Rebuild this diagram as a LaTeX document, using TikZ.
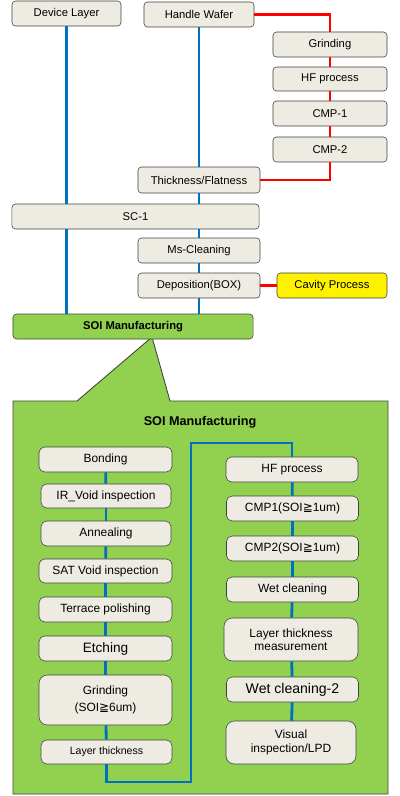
\documentclass[tikz,border=0pt]{standalone}
\usepackage{fontspec}
\setmainfont{Liberation Sans}
\newfontfamily\symfont{DejaVu Sans}
\definecolor{beige}{RGB}{238,236,226}
\definecolor{vert}{RGB}{146,208,80}
\definecolor{bleu}{RGB}{0,112,192}
\definecolor{bord}{RGB}{64,64,64}
\newcommand{\supeg}{{\symfont ≧}}
\begin{document}
\begin{tikzpicture}[x=0.025cm,y=-0.025cm]
		\tikzstyle{etape}=[draw=bord, fill=beige, rounded corners=2.5pt, inner sep=0pt, minimum height=0.625cm, font=\fontsize{8}{9.6}\selectfont]
		\tikzstyle{etape_b}=[etape, rounded corners=4pt, minimum width=3.325cm, align=center, font=\fontsize{8.5}{10.5}\selectfont]
		\tikzstyle{lien}=[bleu, line width=2pt]
		\tikzstyle{lien_rouge}=[red, line width=2pt]
		\useasboundingbox (0,0) rectangle (400,796);
		% cadre du bas avec la pointe
		\draw[fill=vert, draw=bord, line width=0.6pt] (13,401) -- (77,401) -- (152,337) -- (170,401) -- (388,401) -- (388,794) -- (13,794) -- cycle;
		% haut
		\node[etape, minimum width=2.725cm] (device) at (66.5,13.5) {Device Layer};
		\node[etape, minimum width=2.75cm] (handle) at (199,14.5) {Handle Wafer};
		\node[etape, minimum width=2.85cm] (grind) at (330,44.5) {Grinding};
		\node[etape, minimum width=2.85cm, minimum height=0.6cm] (hf) at (330,79) {HF process};
		\node[etape, minimum width=2.85cm] (cmpa) at (330,113.5) {CMP-1};
		\node[etape, minimum width=2.85cm] (cmpb) at (330,149.5) {CMP-2};
		\node[etape, minimum width=3.05cm, minimum height=0.65cm] (flat) at (199,180) {Thickness/Flatness};
		\node[etape, minimum width=6.175cm] (sc) at (135.5,216.5) {SC-1};
		\node[etape, minimum width=3.05cm] (ms) at (199,250.5) {Ms-Cleaning};
		\node[etape, minimum width=3.05cm] (dep) at (199,285.5) {Deposition(BOX)};
		\node[etape, fill=yellow, minimum width=2.75cm] (cavity) at (332,285.5) {Cavity Process};
		\node[etape, fill=vert, minimum width=6cm, font=\bfseries\fontsize{8}{9.6}\selectfont] (soi) at (133,326.5) {SOI Manufacturing};
		\draw[lien] (device.south) -- (device.south |- sc.north);
		\draw[lien] (device.south |- sc.south) -- (device.south |- soi.north);
		\draw[lien] (handle.south) -- (flat.north);
		\draw[lien] (flat.south) -- (sc.north -| flat.south);
		\draw[lien] (sc.south -| ms.north) -- (ms.north);
		\draw[lien] (ms.south) -- (dep.north);
		\draw[lien] (dep.south) -- (soi.north -| dep.south);
		\draw[lien_rouge] (handle.east) -| (grind.north);
		\draw[lien_rouge] (grind.south) -- (hf.north);
		\draw[lien_rouge] (hf.south) -- (cmpa.north);
		\draw[lien_rouge] (cmpa.south) -- (cmpb.north);
		\draw[lien_rouge] (cmpb.south) |- (flat.east);
		\draw[lien_rouge] (dep.east) -- (cavity.west);
		% bas
		\node[font=\bfseries\fontsize{9}{11}\selectfont] (titre) at (200,422) {SOI Manufacturing};
		\node[etape_b] (bond) at (105.5,459.5) {Bonding};
		\node[etape_b, minimum width=3.25cm, minimum height=0.6cm] (irv) at (106,496) {IR\_Void inspection};
		\node[etape_b, minimum width=3.25cm] (anneal) at (106,533.5) {Annealing};
		\node[etape_b, minimum height=0.6cm] (sat) at (105.5,571) {SAT Void inspection};
		\node[etape_b] (terrace) at (105.5,609.5) {Terrace polishing};
		\node[etape_b, font=\fontsize{9.7}{11}\selectfont] (etch) at (105.5,648.5) {Etching};
		\node[etape_b, rounded corners=6pt, minimum height=1.25cm, font=\fontsize{8.5}{12}\selectfont] (grind2) at (105.5,700) {Grinding\\(SOI\supeg6um)};
		\node[etape_b, minimum width=3.275cm, minimum height=0.6cm, font=\fontsize{7.5}{9}\selectfont] (laythick) at (106.5,752) {Layer thickness};
		\node[etape_b, minimum width=3.3cm] (hf2) at (292,469.5) {HF process};
		\node[etape_b, minimum width=3.3cm] (cmpc) at (292.5,508.5) {CMP1(SOI\supeg1um)};
		\node[etape_b, minimum width=3.3cm] (cmpd) at (292.5,548.5) {CMP2(SOI\supeg1um)};
		\node[etape_b, minimum width=3.3cm] (wet) at (292.5,589.5) {Wet cleaning};
		\node[etape_b, rounded corners=6pt, minimum width=3.35cm, minimum height=1.075cm, font=\fontsize{8.5}{9.6}\selectfont] (lmeas) at (291,639.5) {Layer thickness\\measurement};
		\node[etape_b, minimum width=3.3cm, font=\fontsize{10}{12}\selectfont] (wet2) at (292.5,689.5) {Wet cleaning-2};
		\node[etape_b, rounded corners=6pt, minimum width=3.25cm, minimum height=1.075cm, font=\fontsize{8.5}{9.8}\selectfont] (visual) at (291,742.5) {Visual\\inspection/LPD};
		\coordinate (bas) at (191,782);
		\coordinate (haut) at (191,443);
		\draw[lien] (bond) -- (irv);
		\draw[lien] (irv) -- (anneal);
		\draw[lien] (anneal) -- (sat);
		\draw[lien] (sat) -- (terrace);
		\draw[lien] (terrace) -- (etch);
		\draw[lien] (etch) -- (grind2);
		\draw[lien] (grind2) -- (laythick);
		\draw[lien] (laythick.south) |- (bas) -- (haut) -| (hf2.north);
		\draw[lien] (hf2) -- (cmpc);
		\draw[lien] (cmpc) -- (cmpd);
		\draw[lien] (cmpd) -- (wet);
		\draw[lien] (wet) -- (lmeas);
		\draw[lien] (lmeas) -- (wet2);
		\draw[lien] (wet2) -- (visual);
	\end{tikzpicture}
\end{document}
